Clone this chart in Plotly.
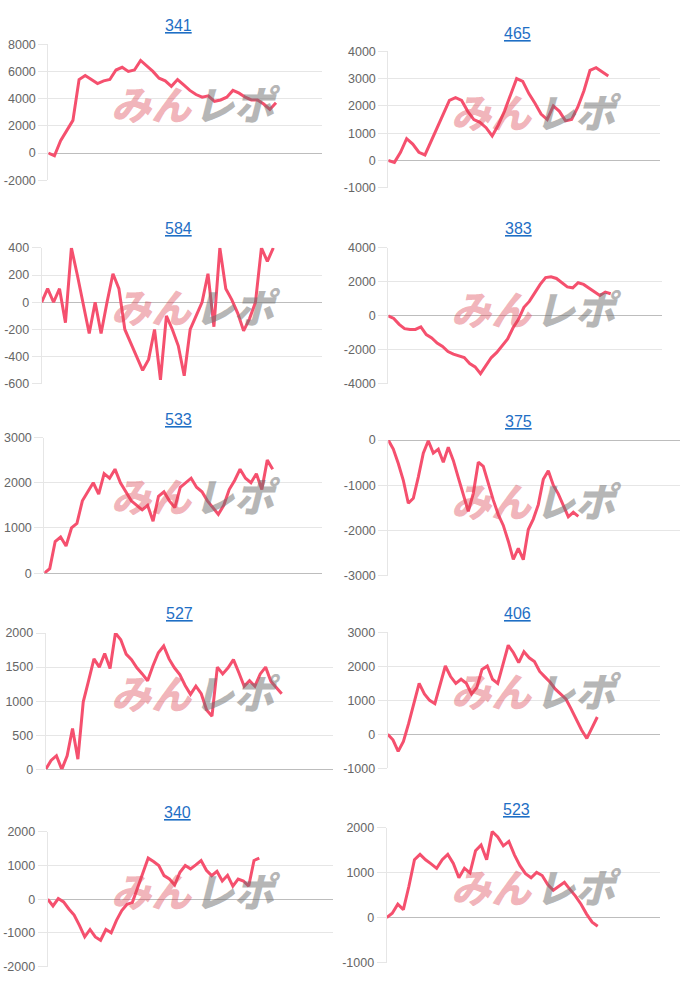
import plotly.graph_objects as go

titles = ["341", "465", "584", "383", "533", "375", "527", "406", "340", "523"]

s341 = [0, -200, 900, 1700, 2400, 5400, 5700, 5400, 5100, 5300, 5400, 6100, 6300, 6000,
        6100, 6800, 6400, 6000, 5500, 5300, 4900, 5400, 5000, 4600, 4300, 4100, 4200, 3800,
        3900, 4100, 4600, 4400, 4100, 3900, 3900, 3600, 3200, 3700]
s465 = [0, -70, 300, 800, 600, 300, 200, 700, 1250, 1700, 2200, 2300, 2200, 1800, 1500,
        1400, 1200, 900, 1300, 1800, 2400, 3000, 2900, 2450, 2100, 1700, 1500, 2000, 1800,
        1450, 1500, 1950, 2550, 3300, 3400, 3250, 3100]
s584 = [0, 100, 0, 100, -150, 400, 200, -20, -230, 0, -230, 0, 210, 100, -200, -300, -400,
        -500, -420, -200, -570, -100, -200, -320, -540, -200, -100, 0, 210, -180, 400, 100,
        20, -80, -210, -120, 0, 400, 300, 400]
s383 = [0, -150, -500, -750, -800, -800, -650, -1100, -1300, -1600, -1800, -2100, -2250,
        -2350, -2450, -2800, -3000, -3400, -2950, -2450, -2150, -1750, -1350, -700, -200, 500,
        850, 1350, 1850, 2250, 2300, 2200, 1950, 1700, 1650, 1950, 1850, 1650, 1400, 1200,
        1400, 1300]
s533 = [0, 100, 700, 800, 600, 1000, 1100, 1600, 1800, 2000, 1750, 2200, 2100, 2300, 2000,
        1800, 1600, 1500, 1400, 1500, 1150, 1700, 1800, 1600, 1450, 1900, 2000, 2100, 1900,
        1800, 1600, 1450, 1300, 1500, 1850, 2050, 2300, 2100, 2000, 2200, 1850, 2500, 2300]
s375 = [0, -200, -520, -890, -1400, -1290, -820, -290, -15, -290, -200, -490, -160, -450,
        -830, -1180, -1580, -1180, -490, -580, -960, -1330, -1650, -1890, -2240, -2640, -2400,
        -2650, -1980, -1750, -1430, -870, -680, -1000, -1190, -1430, -1700, -1600, -1690]
s527 = [0, 130, 200, 0, 200, 600, 150, 990, 1300, 1620, 1500, 1700, 1480, 2000, 1900, 1690,
        1610, 1490, 1400, 1300, 1520, 1710, 1810, 1620, 1490, 1390, 1230, 1100, 1220, 1110,
        870, 780, 1500, 1400, 1490, 1610, 1420, 1220, 1300, 1220, 1400, 1500, 1290, 1200, 1110]
s406 = [0, -160, -500, -210, 320, 920, 1500, 1190, 1000, 900, 1430, 2010, 1700, 1500, 1620,
        1500, 1190, 1380, 1910, 2010, 1620, 1500, 2060, 2620, 2400, 2110, 2430, 2250, 2140,
        1850, 1690, 1530, 1330, 1170, 1040, 750, 430, 130, -120, 190, 510]
s340 = [0, -200, 20, -80, -290, -470, -780, -1120, -900, -1120, -1220, -900, -1000, -630,
        -340, -150, -100, 340, 730, 1220, 1120, 1000, 700, 600, 420, 800, 1000, 900, 1020,
        1150, 860, 700, 830, 540, 710, 390, 600, 540, 390, 1150, 1220]
s523 = [0, 100, 300, 180, 700, 1290, 1410, 1290, 1200, 1100, 1290, 1410, 1210, 890, 1100,
        1000, 1490, 1620, 1290, 1920, 1800, 1600, 1700, 1400, 1160, 980, 890, 1010, 940, 740,
        610, 690, 790, 630, 480, 300, 80, -100, -190]

series = [s341, s465, s584, s383, s533, s375, s527, s406, s340, s523]

# y axis: (min, max, step)
y_min = [-2000, -1000, -600, -4000, 0, -3000, 0, -1000, -2000, -1000]
y_max = [8000, 4000, 400, 4000, 3000, 0, 2000, 3000, 2000, 2000]
y_step = [2000, 1000, 200, 2000, 1000, 1000, 500, 1000, 1000, 1000]

# ---- layout geometry (pixels) ----
W, H = 680, 989
geom = [  # left, right, top, bottom of plot area
    (48.3, 321.7, 37.7, 175.7),
    (388.3, 660.0, 45.0, 183.3),
    (41.7, 321.7, 244.3, 382.3),
    (388.3, 661.7, 244.3, 382.3),
    (44.3, 321.7, 436.7, 574.3),
    (388.3, 680.0, 439.3, 576.7),
    (45.7, 333.0, 635.0, 773.3),
    (387.7, 660.0, 634.3, 772.3),
    (47.7, 333.0, 836.7, 973.3),
    (386.7, 660.0, 832.7, 969.3),
]
end_px = [276.0, 608.3, 273.3, 610.7, 272.7, 578.3, 281.7, 597.3, 259.3, 597.7]
title_pos = [(178, 18.3), (517, 26.7), (178, 225), (518, 225), (178, 418.3),
             (518, 420), (179, 615), (517, 615), (177, 816.7), (516, 814)]
wm_y = [97, 105, 303, 305, 495, 500, 695, 693, 896, 892]

LINE = "#f5506e"
GRID = "#e6e6e6"
ZERO = "#bdbdbd"
FONT = "Liberation Sans, Arial, sans-serif"

fig = go.Figure()
layout = dict(width=W, height=H, autosize=False, margin=dict(l=0, r=0, t=0, b=0, pad=0),
              paper_bgcolor="white", plot_bgcolor="white", showlegend=False,
              annotations=[])

for k, (vals, g) in enumerate(zip(series, geom)):
    n = k + 1
    xa = "x" if n == 1 else f"x{n}"
    ya = "y" if n == 1 else f"y{n}"
    left, right, top, bottom = g
    xmax = (len(vals) - 1) * (right - left) / (end_px[k] - left)
    fig.add_trace(go.Scatter(x=list(range(len(vals))), y=vals, mode="lines",
                             line=dict(color=LINE, width=3), xaxis=xa, yaxis=ya,
                             hoverinfo="skip"))
    layout[f"xaxis{'' if n == 1 else n}"] = dict(
        domain=[left / W, right / W], range=[0, xmax], anchor=ya,
        showgrid=False, zeroline=False, showticklabels=False, showline=False,
        ticks="", fixedrange=True)
    tv = list(range(y_min[k], y_max[k] + 1, y_step[k]))
    layout[f"yaxis{'' if n == 1 else n}"] = dict(
        domain=[1 - bottom / H, 1 - top / H], range=[y_min[k], y_max[k]], anchor=xa,
        tickvals=tv, ticktext=[str(v) for v in tv],
        showgrid=True, gridcolor=GRID, gridwidth=1,
        zeroline=True, zerolinecolor=ZERO, zerolinewidth=1,
        showline=True, linecolor=GRID, linewidth=1,
        ticks="outside", ticklen=9, tickcolor=GRID,
        tickfont=dict(family=FONT, size=12.5, color="#666666"), fixedrange=True)
    tx, ty = title_pos[k]
    layout["annotations"].append(dict(
        text=f"<u>{titles[k]}</u>", x=tx / W, y=1 - ty / H, xref="paper", yref="paper",
        xanchor="center", yanchor="middle", showarrow=False,
        font=dict(family=FONT, size=16, color="#1f6fc5")))
    off = 0 if left < 300 else 340
    layout["annotations"].append(dict(
        text="<i>みん</i>", x=(152 + off) / W, y=1 - wm_y[k] / H,
        xref="paper", yref="paper", xanchor="center", yanchor="middle", showarrow=False,
        font=dict(family="Noto Sans CJK JP", size=40, weight=900,
                  color="rgba(220,60,75,0.4)")))
    layout["annotations"].append(dict(
        text="<i>レポ</i>", x=(238 + off) / W, y=1 - wm_y[k] / H,
        xref="paper", yref="paper", xanchor="center", yanchor="middle", showarrow=False,
        font=dict(family="Noto Sans CJK JP", size=40, weight=900,
                  color="rgba(110,110,110,0.5)")))

fig.update_layout(**layout)
fig.write_html("out.html", config={"displayModeBar": False},
               post_script="document.body.style.margin='0';document.body.style.overflow='hidden';")
